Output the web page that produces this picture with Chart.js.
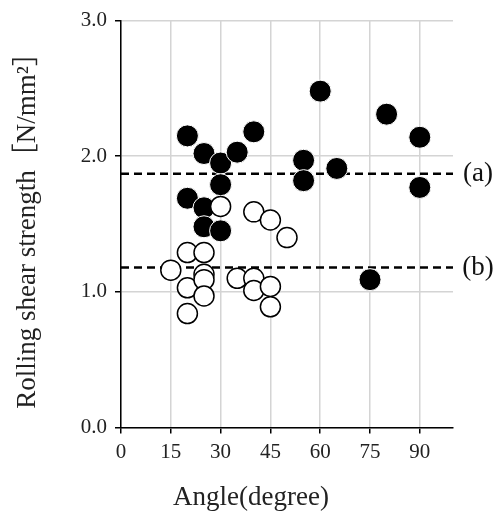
<!DOCTYPE html>
<html>
<head>
<meta charset="utf-8">
<script src="https://cdn.jsdelivr.net/npm/chart.js@4"></script>
<style>
  html, body { margin: 0; padding: 0; background: #fff; }
  #wrap { width: 502px; height: 515px; }
</style>
</head>
<body>
<div id="wrap"><canvas id="myChart" width="502" height="515"></canvas></div>
<script>
// data
const blackAngle = [20, 25, 30, 35, 40, 30, 20, 25, 25, 30, 55, 55, 60, 65, 75, 80, 90, 90];
const blackStrength = [2.15, 2.02, 1.95, 2.03, 2.18, 1.79, 1.69, 1.62, 1.48, 1.45, 1.97, 1.82, 2.48, 1.91, 1.09, 2.31, 2.14, 1.77];

const whiteAngle = [15, 20, 20, 20, 25, 25, 25, 25, 30, 35, 40, 40, 40, 45, 45, 45, 50];
const whiteStrength = [1.16, 1.29, 1.03, 0.84, 1.29, 1.13, 1.09, 0.97, 1.63, 1.10, 1.59, 1.10, 1.01, 1.53, 1.04, 0.89, 1.40];

const refLevels = [1.87, 1.18];
const refNames = ["(a)", "(b)"];

const xTicks = [0, 15, 30, 45, 60, 75, 90];
const yTicks = [0, 1, 2, 3];

const xTitle = "Angle(degree)";
const yTitle = "Rolling shear strength［N/mm²］";

const serif = "'Liberation Serif', 'Times New Roman', 'Noto Sans CJK JP', serif";

function toPoints(xs, ys) {
  return xs.map((x, i) => ({ x: x, y: ys[i] }));
}

// labels (a) (b) next to the dashed lines, plus the x title
// (it sits left of the plot centre in the original)
const textPlugin = {
  id: "extraText",
  afterDraw(chart) {
    const ctx = chart.ctx;
    const yScale = chart.scales.y;
    ctx.save();
    ctx.fillStyle = "#111";
    ctx.textAlign = "center";
    ctx.textBaseline = "middle";
    ctx.font = "27px " + serif;
    refLevels.forEach((v, i) => {
      ctx.fillText(refNames[i], 478, yScale.getPixelForValue(v));
    });
    ctx.fillStyle = "#222";
    ctx.fillText(xTitle, 251, 498);
    ctx.restore();
  },
};

const refDatasets = refLevels.map((v) => ({
  type: "line",
  data: [{ x: 0, y: v }, { x: 100, y: v }],
  borderColor: "#000",
  borderWidth: 2.5,
  borderDash: [8, 5],
  pointRadius: 0,
  fill: false,
}));

const config = {
  type: "scatter",
  data: {
    datasets: [
      {
        data: toPoints(whiteAngle, whiteStrength),
        backgroundColor: "#fff",
        borderColor: "#000",
        borderWidth: 1.5,
        pointRadius: 10,
      },
      {
        data: toPoints(blackAngle, blackStrength),
        backgroundColor: "#000",
        borderColor: "#fff",
        borderWidth: 1,
        pointRadius: 11,
      },
      ...refDatasets,
    ],
  },
  options: {
    responsive: false,
    animation: false,
    layout: { padding: { top: 19, right: 49, left: 0, bottom: 0 } },
    plugins: {
      legend: { display: false },
      tooltip: { enabled: false },
    },
    scales: {
      x: {
        type: "linear",
        min: 0,
        max: 100,
        afterFit: (scale) => { scale.height = 87.5; },
        afterBuildTicks: (scale) => { scale.ticks = xTicks.map((v) => ({ value: v })); },
        ticks: { font: { family: serif, size: 21 }, color: "#222", padding: 6 },
        grid: { color: "#d4d4d4", lineWidth: 1.5, tickColor: "#000", tickLength: 6, tickWidth: 1.5 },
        border: { color: "#000", width: 1.5 },
        title: { display: false },
      },
      y: {
        type: "linear",
        min: 0,
        max: 3,
        afterFit: (scale) => { scale.width = 121; },
        afterBuildTicks: (scale) => { scale.ticks = yTicks.map((v) => ({ value: v })); },
        ticks: {
          font: { family: serif, size: 21 },
          color: "#222",
          padding: 8,
          callback: (v) => v.toFixed(1),
        },
        grid: { color: "#d4d4d4", lineWidth: 1.5, tickColor: "#000", tickLength: 6, tickWidth: 1.5 },
        border: { color: "#000", width: 1.5 },
        title: {
          display: true,
          text: yTitle,
          font: { family: serif, size: 27 },
          color: "#222",
          padding: { top: 12, bottom: 0 },
        },
      },
    },
  },
  plugins: [textPlugin],
};

new Chart(document.getElementById("myChart").getContext("2d"), config);
</script>
</body>
</html>
